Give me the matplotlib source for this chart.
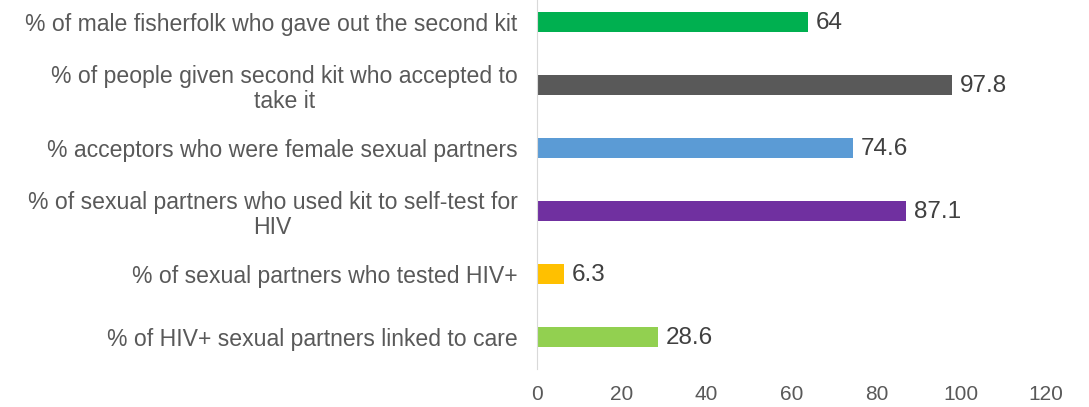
import matplotlib.pyplot as plt

plt.rcParams['font.family'] = ['Liberation Sans', 'DejaVu Sans']

labels = ['% of male fisherfolk who gave out the second kit',
          '% of people given second kit who accepted to\ntake it',
          '% acceptors who were female sexual partners',
          '% of sexual partners who used kit to self-test for\nHIV',
          '% of sexual partners who tested HIV+',
          '% of HIV+ sexual partners linked to care']
values = [64, 97.8, 74.6, 87.1, 6.3, 28.6]
colors = ['#00B050', '#595959', '#5B9BD5', '#7030A0', '#FFC000', '#92D050']
ticks = [0, 20, 40, 60, 80, 100, 120]

fig = plt.figure(figsize=(10.89, 4.07), dpi=100)
ax = fig.add_axes([537/1089, 38.5/407, (1046-537)/1089, 378/407])

pos = list(range(len(values)))[::-1]
ax.barh(pos, values, height=0.32, color=colors)
for p, v in zip(pos, values):
    ax.text(v + 1.8, p - 0.02, f'{v:g}', va='center', ha='left', fontsize=17.5, color='#404040')

ax.set_xlim(0, 120)
ax.set_ylim(-0.5, 5.5)
ax.set_xticks(ticks)
ax.set_yticks(pos)
ax.set_yticklabels(labels, ha='right', multialignment='center', linespacing=1.12)
ax.tick_params(axis='y', length=0, pad=14, labelsize=16.6, labelcolor='#595959')
ax.tick_params(axis='x', length=0, pad=12, labelsize=15, labelcolor='#595959')
for s in ['top', 'right', 'bottom']:
    ax.spines[s].set_visible(False)
ax.spines['left'].set_color('#D9D9D9')

fig.savefig('out.png', dpi=100)
